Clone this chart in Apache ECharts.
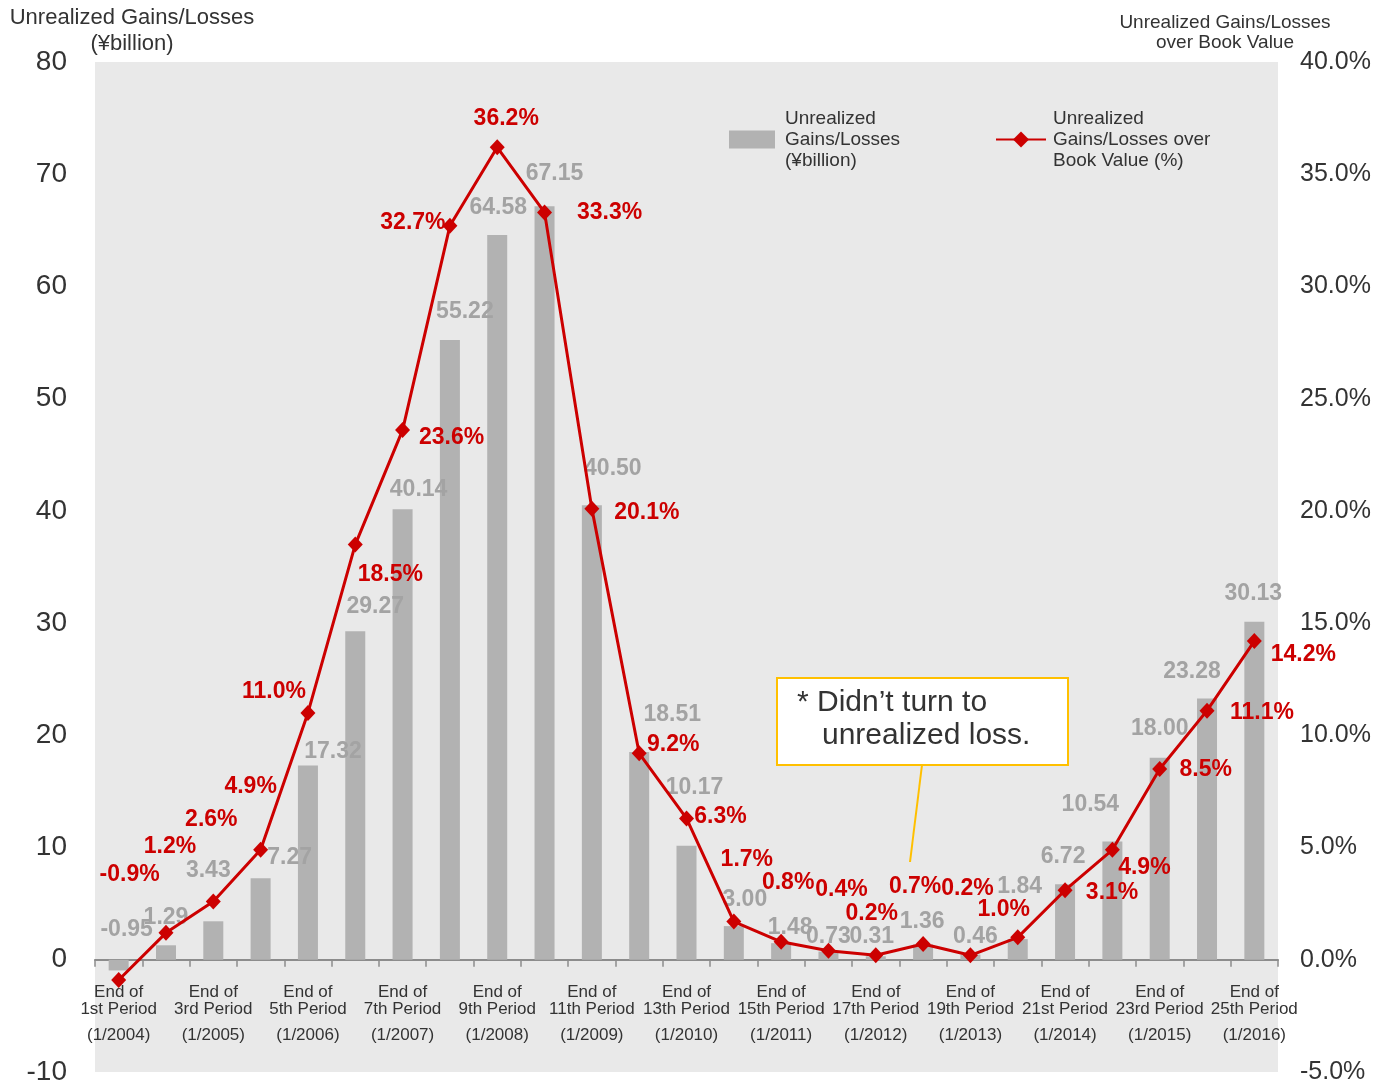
<!DOCTYPE html>
<html>
<head>
<meta charset="utf-8">
<script src="https://cdn.jsdelivr.net/npm/echarts@6/dist/echarts.min.js"></script>
<style>html,body{margin:0;padding:0;background:#fff;}#c{width:1374px;height:1085px;}</style>
</head>
<body>
<div id="c"></div>
<script>
// ---- data ----
const periods = ['1st','2nd','3rd','4th','5th','6th','7th','8th','9th','10th','11th','12th','13th','14th','15th','16th','17th','18th','19th','20th','21st','22nd','23rd','24th','25th'];
const dates = ['1/2004','7/2004','1/2005','7/2005','1/2006','7/2006','1/2007','7/2007','1/2008','7/2008','1/2009','7/2009','1/2010','7/2010','1/2011','7/2011','1/2012','7/2012','1/2013','7/2013','1/2014','7/2014','1/2015','7/2015','1/2016'];
const gains = [-0.95,1.29,3.43,7.27,17.32,29.27,40.14,55.22,64.58,67.15,40.50,18.51,10.17,3.00,1.48,0.73,0.31,1.36,0.46,1.84,6.72,10.54,18.00,23.28,30.13];
const ratio = [-0.9,1.2,2.6,4.9,11.0,18.5,23.6,32.7,36.2,33.3,20.1,9.2,6.3,1.7,0.8,0.4,0.2,0.7,0.2,1.0,3.1,4.9,8.5,11.1,14.2];
const leftTicks = {min:-10, max:80, interval:10};
const rightTicks = {min:-5, max:40, interval:5};

// ---- label nudges (styling only) ----
const barNudge = [[8,-17],[0,-15],[-5,-38],[29,-8],[25,-1],[20,-12],[16,-7],[15,-15],[1,-14],[10,-20],[21,-24],[33,-24],[8,-45],[11,-13],[9,-3],[0,-2],[-4,-7],[-1,-10],[5,-5],[2,-39],[-2,-15],[-22,-24],[0,-16],[-15,-14],[-1,-15]];
const lineNudge = [[11,-105],[4,-86],[-2,-82],[-10,-63],[-34,-21],[35,30],[49,8],[-37,-3],[9,-29],[65,0],[55,4],[34,-9],[34,-2],[13,-62],[7,-59],[13,-61],[-4,-42],[-8,-57],[-3,-67],[-14,-28],[47,2],[32,18],[46,1],[55,2],[49,14]];

const SANS = '"Liberation Sans",Arial,sans-serif';
const RED = '#cc0000';
const BAR = '#b2b2b2';
const TXT = '#333333';

const barName = 'Unrealized Gains/Losses (¥billion)';
const lineName = 'Unrealized Gains/Losses over Book Value (%)';

const GRID = {left: 95, right: 96, top: 62, bottom: 13};
const CH = 1085;
const gridH = CH - GRID.top - GRID.bottom;
// raise the category axis from the grid bottom up to the value 0 line of the left axis
const zeroLift = -gridH * (0 - leftTicks.min) / (leftTicks.max - leftTicks.min);

const chart = echarts.init(document.getElementById('c'), null, {renderer:'canvas'});

const barData = gains.map((v,i)=>({value: v, label: {offset: barNudge[i]}}));
const lineData = ratio.map((v,i)=>({value: v, label: {offset: lineNudge[i]}}));

const option = {
  animation: false,
  backgroundColor: '#ffffff',
  grid: Object.assign({show: true, backgroundColor: '#e9e9e9', borderWidth: 0, containLabel: false, outerBoundsMode: 'none'}, GRID),
  legend: [
    {
      data: [barName], left: 724, top: 103, itemWidth: 46, itemHeight: 18,
      icon: 'rect',
      formatter: () => 'Unrealized\nGains/Losses\n(¥billion)',
      textStyle: {fontFamily: SANS, fontSize: 19, lineHeight: 21, color: TXT, padding: [0,0,0,5]}
    },
    {
      data: [lineName], left: 990, top: 103, itemWidth: 50, itemHeight: 20,
      formatter: () => 'Unrealized\nGains/Losses over\nBook Value (%)',
      textStyle: {fontFamily: SANS, fontSize: 19, lineHeight: 21, color: TXT, padding: [0,0,0,2]}
    }
  ],
  xAxis: {
    type: 'category',
    data: periods,
    boundaryGap: true,
    position: 'bottom',
    offset: zeroLift,
    axisLine: {show: true, onZero: false, lineStyle: {color: '#8c8c8c', width: 2}},
    axisTick: {show: true, interval: 0, length: 7, inside: false, lineStyle: {color: '#8c8c8c', width: 1.5}},
    axisLabel: {
      interval: 1,
      margin: 24,
      formatter: (v, i) => '{a|End of}\n{a|' + periods[i] + ' Period}\n{b|(' + dates[i] + ')}',
      rich: {
        a: {fontFamily: SANS, fontSize: 17, lineHeight: 17, color: TXT, align: 'center'},
        b: {fontFamily: SANS, fontSize: 17, lineHeight: 35, color: TXT, align: 'center'}
      }
    },
    splitLine: {show: false}
  },
  yAxis: [
    {
      type: 'value', min: leftTicks.min, max: leftTicks.max, interval: leftTicks.interval,
      axisLine: {show: false}, axisTick: {show: false}, splitLine: {show: false},
      axisLabel: {fontFamily: SANS, fontSize: 28, color: TXT, margin: 28}
    },
    {
      type: 'value', min: rightTicks.min, max: rightTicks.max, interval: rightTicks.interval,
      axisLine: {show: false}, axisTick: {show: false}, splitLine: {show: false},
      axisLabel: {fontFamily: SANS, fontSize: 25, color: TXT, margin: 22, formatter: v => v.toFixed(1) + '%'}
    }
  ],
  series: [
    {
      name: barName, type: 'bar', yAxisIndex: 0, barWidth: 20, z: 2,
      itemStyle: {color: BAR},
      data: barData,
      label: {
        show: true, position: 'top', distance: 0,
        fontFamily: SANS, fontSize: 23, lineHeight: 26, fontWeight: 'bold', color: '#a3a3a3',
        formatter: p => p.value.toFixed(2)
      }
    },
    {
      name: lineName, type: 'line', yAxisIndex: 1, z: 5,
      symbol: 'diamond', symbolSize: [15, 16],
      lineStyle: {color: RED, width: 3},
      itemStyle: {color: RED},
      data: lineData,
      label: {
        show: true, position: 'inside',
        fontFamily: SANS, fontSize: 23, lineHeight: 26, fontWeight: 'bold', color: RED,
        formatter: p => p.value.toFixed(1) + '%'
      }
    }
  ],
  graphic: [
    {type: 'text', x: 132, y: 5, z: 10, style: {text: 'Unrealized Gains/Losses\n(¥billion)', fontFamily: SANS, fontSize: 22, lineHeight: 26, fill: TXT, align: 'center', verticalAlign: 'top'}},
    {type: 'text', x: 1225, y: 13, z: 10, style: {text: 'Unrealized Gains/Losses\nover Book Value', fontFamily: SANS, fontSize: 19, lineHeight: 20, fill: TXT, align: 'center', verticalAlign: 'top'}},
    {type: 'line', z: 10, shape: {x1: 922, y1: 765, x2: 910, y2: 862}, style: {stroke: '#ffc000', lineWidth: 2}},
    {type: 'rect', z: 10, shape: {x: 777, y: 678, width: 291, height: 87}, style: {fill: '#ffffff', stroke: '#ffc000', lineWidth: 2}},
    {type: 'text', z: 11, x: 797, y: 686, style: {text: '* Didn\u2019t turn to\n   unrealized loss.', fontFamily: SANS, fontSize: 30, lineHeight: 33, fill: TXT, verticalAlign: 'top'}}
  ]
};
chart.setOption(option);
</script>
</body>
</html>
